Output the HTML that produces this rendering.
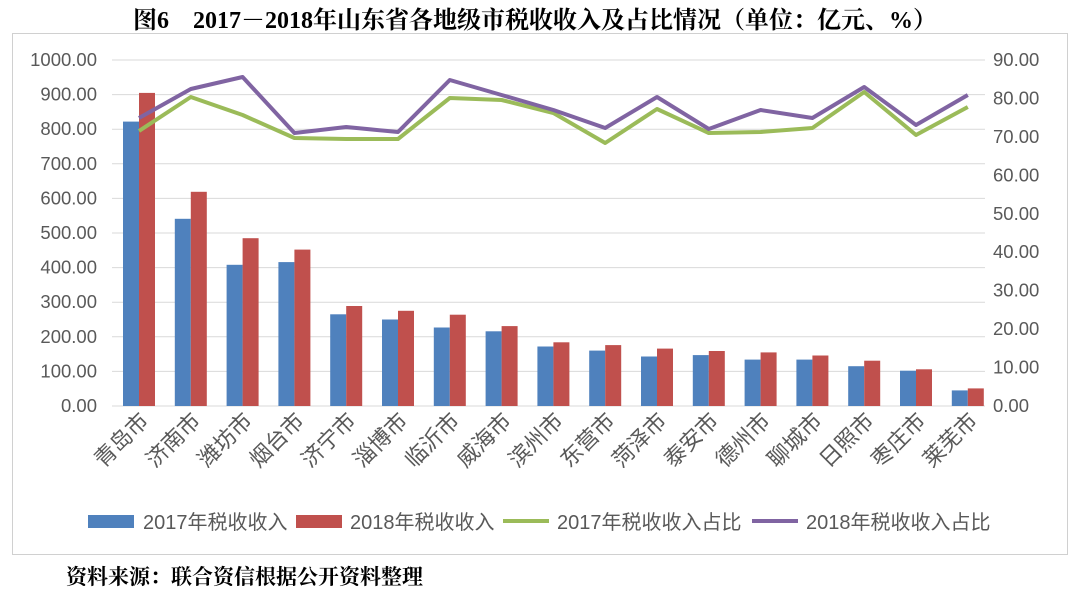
<!DOCTYPE html><html><head><meta charset="utf-8"><style>body{margin:0;background:#fff}svg{display:block}</style></head><body>
<svg width="1080" height="591" viewBox="0 0 1080 591" xmlns="http://www.w3.org/2000/svg" font-family="Liberation Sans, Noto Sans CJK SC, sans-serif">
<text x="535" y="28" text-anchor="middle" font-size="24" font-weight="bold" font-family="Liberation Serif, Noto Serif CJK SC, serif">图6　2017－2018年山东省各地级市税收收入及占比情况（单位：亿元、%）</text>
<rect x="12.5" y="33.5" width="1055" height="521" fill="none" stroke="#d0d0d0"/>
<g stroke="#d9d9d9">
<line x1="112" x2="985" y1="406" y2="406"/><line x1="112" x2="985" y1="371.4" y2="371.4"/><line x1="112" x2="985" y1="336.8" y2="336.8"/><line x1="112" x2="985" y1="302.2" y2="302.2"/><line x1="112" x2="985" y1="267.6" y2="267.6"/><line x1="112" x2="985" y1="233" y2="233"/><line x1="112" x2="985" y1="198.4" y2="198.4"/><line x1="112" x2="985" y1="163.8" y2="163.8"/><line x1="112" x2="985" y1="129.2" y2="129.2"/><line x1="112" x2="985" y1="94.6" y2="94.6"/><line x1="112" x2="985" y1="60" y2="60"/>
</g>
<g font-size="18.5" fill="#595959" text-anchor="end">
<text x="97" y="412">0.00</text><text x="97" y="377.4">100.00</text><text x="97" y="342.8">200.00</text><text x="97" y="308.2">300.00</text><text x="97" y="273.6">400.00</text><text x="97" y="239">500.00</text><text x="97" y="204.4">600.00</text><text x="97" y="169.8">700.00</text><text x="97" y="135.2">800.00</text><text x="97" y="100.6">900.00</text><text x="97" y="66">1000.00</text>
</g>
<g font-size="18.5" fill="#595959">
<text x="993" y="412">0.00</text><text x="993" y="373.5">10.00</text><text x="993" y="335">20.00</text><text x="993" y="296.6">30.00</text><text x="993" y="258.2">40.00</text><text x="993" y="219.8">50.00</text><text x="993" y="181.3">60.00</text><text x="993" y="142.9">70.00</text><text x="993" y="104.4">80.00</text><text x="993" y="66">90.00</text>
</g>
<g fill="#4f81bd">
<rect x="123" y="121.6" width="16" height="284.4"/><rect x="174.8" y="218.8" width="16" height="187.2"/><rect x="226.6" y="264.8" width="16" height="141.2"/><rect x="278.4" y="262.1" width="16" height="143.9"/><rect x="330.2" y="314.3" width="16" height="91.7"/><rect x="382" y="319.5" width="16" height="86.5"/><rect x="433.8" y="327.5" width="16" height="78.5"/><rect x="485.6" y="331.3" width="16" height="74.7"/><rect x="537.4" y="346.5" width="16" height="59.5"/><rect x="589.2" y="350.6" width="16" height="55.4"/><rect x="641" y="356.5" width="16" height="49.5"/><rect x="692.8" y="355.1" width="16" height="50.9"/><rect x="744.6" y="359.6" width="16" height="46.4"/><rect x="796.4" y="359.6" width="16" height="46.4"/><rect x="848.2" y="366.2" width="16" height="39.8"/><rect x="900" y="370.7" width="16" height="35.3"/><rect x="951.8" y="390.4" width="16" height="15.6"/>
</g>
<g fill="#c0504d">
<rect x="139" y="92.9" width="16" height="313.1"/><rect x="190.8" y="191.8" width="16" height="214.2"/><rect x="242.6" y="238.2" width="16" height="167.8"/><rect x="294.4" y="249.6" width="16" height="156.4"/><rect x="346.2" y="306" width="16" height="100"/><rect x="398" y="310.8" width="16" height="95.2"/><rect x="449.8" y="314.7" width="16" height="91.3"/><rect x="501.6" y="326.1" width="16" height="79.9"/><rect x="553.4" y="342.3" width="16" height="63.7"/><rect x="605.2" y="345.1" width="16" height="60.9"/><rect x="657" y="348.6" width="16" height="57.4"/><rect x="708.8" y="351" width="16" height="55"/><rect x="760.6" y="352.4" width="16" height="53.6"/><rect x="812.4" y="355.5" width="16" height="50.5"/><rect x="864.2" y="360.7" width="16" height="45.3"/><rect x="916" y="369.3" width="16" height="36.7"/><rect x="967.8" y="388.4" width="16" height="17.6"/>
</g>
<polyline points="139,131 190.8,97 242.6,115 294.4,138 346.2,139 398,139 449.8,98 501.6,100 553.4,113 605.2,143 657,109 708.8,133 760.6,132 812.4,128 864.2,92 916,135 967.8,107" fill="none" stroke="#9bbb59" stroke-width="4" stroke-linejoin="round"/>
<polyline points="139,118 190.8,89 242.6,77 294.4,133 346.2,127 398,132 449.8,80 501.6,95 553.4,110 605.2,128 657,97 708.8,129 760.6,110 812.4,118 864.2,87 916,125 967.8,95" fill="none" stroke="#8064a2" stroke-width="4" stroke-linejoin="round"/>
<g font-size="22" fill="#595959" text-anchor="end">
<text transform="translate(150,422) rotate(-45)">青岛市</text><text transform="translate(201.8,422) rotate(-45)">济南市</text><text transform="translate(253.6,422) rotate(-45)">潍坊市</text><text transform="translate(305.4,422) rotate(-45)">烟台市</text><text transform="translate(357.2,422) rotate(-45)">济宁市</text><text transform="translate(409,422) rotate(-45)">淄博市</text><text transform="translate(460.8,422) rotate(-45)">临沂市</text><text transform="translate(512.6,422) rotate(-45)">威海市</text><text transform="translate(564.4,422) rotate(-45)">滨州市</text><text transform="translate(616.2,422) rotate(-45)">东营市</text><text transform="translate(668,422) rotate(-45)">菏泽市</text><text transform="translate(719.8,422) rotate(-45)">泰安市</text><text transform="translate(771.6,422) rotate(-45)">德州市</text><text transform="translate(823.4,422) rotate(-45)">聊城市</text><text transform="translate(875.2,422) rotate(-45)">日照市</text><text transform="translate(927,422) rotate(-45)">枣庄市</text><text transform="translate(978.8,422) rotate(-45)">莱芜市</text>
</g>
<g font-size="20" fill="#595959">
<rect x="88" y="515" width="46" height="13" fill="#4f81bd"/><text x="143" y="529">2017年税收收入</text>
<rect x="296" y="515" width="46" height="13" fill="#c0504d"/><text x="350" y="529">2018年税收收入</text>
<line x1="503" x2="549" y1="521" y2="521" stroke="#9bbb59" stroke-width="4"/><text x="557" y="529">2017年税收收入占比</text>
<line x1="752" x2="798" y1="521" y2="521" stroke="#8064a2" stroke-width="4"/><text x="806" y="529">2018年税收收入占比</text>
</g>
<text x="66" y="584" font-size="21" font-weight="bold" font-family="Noto Serif CJK SC, serif">资料来源：联合资信根据公开资料整理</text>
</svg></body></html>
